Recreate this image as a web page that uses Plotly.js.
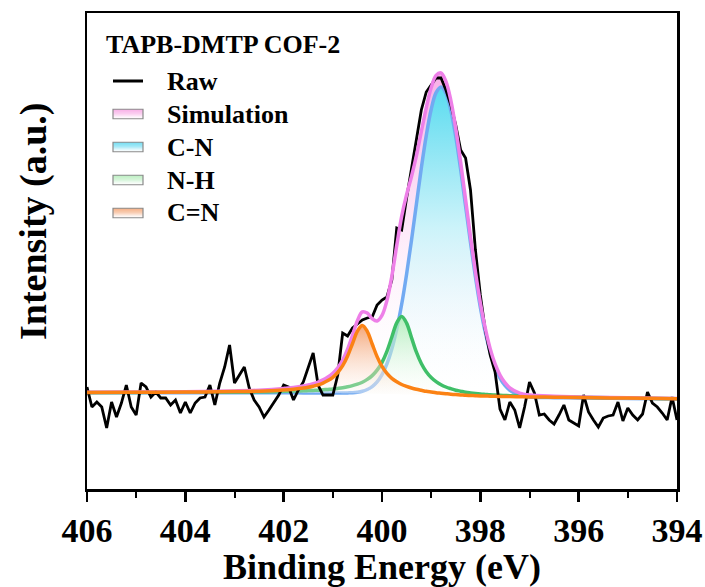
<!DOCTYPE html>
<html>
<head>
<meta charset="utf-8">
<script src="https://cdn.plot.ly/plotly-3.0.1.min.js"></script>
<style>
  html, body { margin: 0; padding: 0; background: #fff; }
  #chart { width: 705px; height: 587px; }
</style>
</head>
<body>
<div id="chart"></div>
<script>
// ---- Measured N 1s spectrum (binding energy in eV, intensity in a.u.) ----
const rawEnergy = [
  406.0, 405.9, 405.8, 405.7, 405.6, 405.5, 405.4, 405.3, 405.2, 405.1,
  405.0, 404.9, 404.8, 404.7, 404.6, 404.5, 404.4, 404.3, 404.2, 404.1,
  404.0, 403.9, 403.8, 403.7, 403.6, 403.5, 403.4, 403.3, 403.2, 403.1,
  403.0, 402.9, 402.8, 402.7, 402.6, 402.5, 402.4, 402.3, 402.2, 402.1,
  402.0, 401.9, 401.8, 401.7, 401.6, 401.5, 401.4, 401.3, 401.2, 401.1,
  401.0, 400.9, 400.8, 400.7, 400.6, 400.5, 400.4, 400.3, 400.2, 400.1,
  400.0, 399.9, 399.8, 399.7, 399.6, 399.5, 399.4, 399.3, 399.2, 399.1,
  399.0, 398.9, 398.8, 398.7, 398.6, 398.5, 398.4, 398.3, 398.2, 398.1,
  398.0, 397.9, 397.8, 397.7, 397.6, 397.5, 397.4, 397.3, 397.2, 397.1,
  397.0, 396.9, 396.8, 396.7, 396.6, 396.5, 396.4, 396.3, 396.2, 396.1,
  396.0, 395.9, 395.8, 395.7, 395.6, 395.5, 395.4, 395.3, 395.2, 395.1,
  395.0, 394.9, 394.8, 394.7, 394.6, 394.5, 394.4, 394.3, 394.2, 394.1,
  394.0
];
const rawIntensity = [
  102, 82, 87, 82, 61, 87, 72, 86, 104, 82,
  74, 106, 102, 92, 97, 91, 91, 84, 89, 76,
  87, 76, 86, 91, 92, 104, 84, 106, 122, 144,
  106, 114, 122, 101, 89, 82, 72, 79, 86, 94,
  104, 102, 89, 99, 107, 121, 136, 104, 94, 94,
  94, 114, 156, 153, 161, 165, 169, 171, 172, 184,
  189, 192, 209, 261, 259, 291, 319, 349, 379, 397,
  404, 411, 411, 399, 384, 364, 339, 331, 299, 239,
  194, 159, 134, 117, 80, 69, 87, 79, 61, 82,
  107, 96, 74, 75, 69, 65, 74, 84, 69, 66,
  63, 94, 77, 69, 62, 71, 73, 74, 87, 68,
  81, 74, 69, 75, 97, 86, 82, 76, 69, 92,
  69
];

// ---- Peak-fit results on the fit grid ----
const fitEnergy = [
  406.0, 405.0, 404.0, 403.0, 402.5, 402.0, 401.8, 401.6,
  401.5, 401.4, 401.3, 401.2, 401.1, 401.0, 400.9, 400.8, 400.7, 400.6,
  400.5, 400.4, 400.3, 400.2, 400.1, 400.0, 399.9, 399.8, 399.7, 399.6,
  399.5, 399.4, 399.3, 399.2, 399.1, 399.0, 398.9, 398.8, 398.7, 398.6,
  398.5, 398.4, 398.3, 398.2, 398.1, 398.0, 397.9, 397.8, 397.7, 397.6,
  397.5, 397.4, 397.2, 397.0, 396.5, 396.0, 395.0, 394.0
];
const background = [
  96.3, 96.3, 96.3, 96.3, 96.2, 96.2, 96.2, 96.1,
  96.1, 96.1, 96.0, 96.0, 96.0, 95.9, 95.9, 95.8, 95.8, 95.7,
  95.6, 95.5, 95.4, 95.3, 95.2, 95.1, 95.0, 94.9, 94.8, 94.6,
  94.5, 94.3, 94.1, 93.9, 93.6, 93.4, 93.2, 93.0, 92.8, 92.6,
  92.4, 92.3, 92.1, 92.0, 91.9, 91.8, 91.8, 91.7, 91.7, 91.6,
  91.6, 91.6, 91.5, 91.5, 91.3, 91.1, 90.6, 90.0
];
const simulation = [
  96.8, 96.9, 97.3, 98.1, 98.8, 100.4, 101.5, 103.0,
  104.0, 105.3, 106.9, 109.1, 112.0, 115.8, 121.3, 129.0, 139.8, 153.7,
  168.3, 177.1, 175.9, 170.3, 168.0, 173.6, 188.4, 212.8, 243.6, 272.6,
  294.3, 312.5, 333.3, 357.4, 381.2, 401.2, 413.6, 416.1, 407.6, 388.6,
  360.6, 326.7, 289.4, 252.1, 217.2, 186.3, 160.8, 140.4, 125.1, 113.9,
  106.3, 101.2, 95.9, 94.0, 92.7, 92.1, 91.2, 90.5
];
const peakCN = [
  96.3, 96.3, 96.3, 96.3, 96.2, 96.2, 96.2, 96.1,
  96.1, 96.1, 96.0, 96.0, 96.0, 95.9, 96.0, 95.9, 96.1, 96.3,
  96.8, 97.7, 99.5, 102.4, 107.1, 114.4, 125.1, 140.0, 159.8, 184.7,
  214.8, 248.8, 285.0, 321.0, 353.4, 379.5, 396.3, 402.0, 395.9, 378.7,
  352.2, 319.4, 283.0, 246.5, 212.2, 181.9, 156.8, 136.8, 121.8, 110.9,
  103.5, 98.7, 93.7, 92.1, 91.3, 91.1, 90.6, 90.0
];
const peakNH = [
  96.5, 96.6, 96.7, 97.0, 97.2, 97.7, 97.9, 98.2,
  98.4, 98.6, 98.8, 99.2, 99.6, 100.0, 100.6, 101.3, 102.2, 103.4,
  104.8, 106.8, 109.6, 113.4, 118.9, 126.7, 137.7, 152.0, 166.2, 172.6,
  165.9, 151.4, 136.8, 125.5, 117.3, 111.5, 107.4, 104.3, 102.0, 100.3,
  98.8, 97.8, 96.8, 96.1, 95.5, 95.0, 94.6, 94.2, 94.0, 93.7,
  93.5, 93.3, 93.0, 92.7, 92.2, 91.8, 91.0, 90.3
];
const peakCeqN = [
  96.5, 96.7, 96.9, 97.4, 97.8, 99.0, 99.8, 100.9,
  101.7, 102.8, 104.1, 105.9, 108.4, 111.7, 116.5, 123.3, 133.0, 145.4,
  157.9, 163.5, 157.7, 145.0, 132.4, 122.6, 115.6, 110.7, 107.2, 104.5,
  102.6, 101.0, 99.7, 98.7, 97.7, 97.0, 96.3, 95.8, 95.3, 94.8,
  94.4, 94.1, 93.7, 93.5, 93.3, 93.1, 93.0, 92.8, 92.7, 92.5,
  92.5, 92.4, 92.2, 92.1, 91.8, 91.5, 90.9, 90.2
];

const xTicks = [406, 404, 402, 400, 398, 396, 394];
const sampleName = 'TAPB-DMTP COF-2';
const legendNames = ['Raw', 'Simulation', 'C-N', 'N-H', 'C=N'];

// ---- styling ----
const serif = 'Liberation Serif, Times New Roman, serif';
const styles = {
  Simulation: { line: '#ee7fe8', top: [246, 160, 226], fill: [[0, 'rgba(255,255,255,0)'], [1, 'rgba(246,160,226,0.85)']] },
  'C-N':      { line: '#72aaf2', top: [86, 214, 240],  fill: [[0, 'rgba(255,255,255,0)'], [0.55, 'rgba(195,245,250,0.85)'], [1, 'rgba(80,222,240,0.95)']] },
  'N-H':      { line: '#3fbf68', top: [175, 236, 182], fill: [[0, 'rgba(255,255,255,0.15)'], [1, 'rgba(170,236,178,0.85)']] },
  'C=N':      { line: '#fb8214', top: [243, 160, 110], fill: [[0, 'rgba(255,255,255,0.2)'], [1, 'rgba(243,156,104,0.9)']] }
};
const fitWidth = 3.5;

// background under each component (invisible edge for the fill)
function baseTrace() {
  return { x: fitEnergy, y: background, mode: 'lines', line: { width: 0, shape: 'spline' },
           hoverinfo: 'skip', showlegend: false };
}
// a component area filled down to the background, optionally with its outline
function area(name, values, withLine) {
  const st = styles[name];
  return { x: fitEnergy, y: values, name: name, mode: 'lines',
           line: withLine ? { color: st.line, width: fitWidth, shape: 'spline' } : { width: 0, shape: 'spline' },
           fill: 'tonexty', fillgradient: { type: 'vertical', colorscale: st.fill }, showlegend: false };
}
function outline(name, values) {
  return { x: fitEnergy, y: values, name: name, mode: 'lines',
           line: { color: styles[name].line, width: fitWidth, shape: 'spline' }, showlegend: false };
}

const traces = [
  baseTrace(), area('Simulation', simulation, false),
  baseTrace(), area('C-N', peakCN, true),
  baseTrace(), area('N-H', peakNH, true),
  baseTrace(), area('C=N', peakCeqN, false),
  { x: rawEnergy, y: rawIntensity, name: 'Raw', mode: 'lines',
    line: { color: '#000', width: 2.8 }, showlegend: false },
  outline('Simulation', simulation),
  outline('C=N', peakCeqN)
];

// ---- legend inside the frame (plot-area pixel frame -> paper) ----
const plotL = 87, plotR = 677, plotT = 13, plotB = 489;
const px = v => (v - plotL) / (plotR - plotL);
const py = v => (plotB - v) / (plotB - plotT);

const shapes = [];
const annotations = [];
const rowY = [81, 114, 147, 180, 213];
const boxL = 113, boxR = 143, boxH = 9.5, textX = 165;

annotations.push({ xref: 'paper', yref: 'paper', x: px(104), y: py(44), xanchor: 'left', yanchor: 'middle',
  text: sampleName, showarrow: false, font: { family: serif, size: 26, color: '#000', weight: 'bold' } });

legendNames.forEach((name, i) => {
  const yc = rowY[i];
  if (name === 'Raw') {
    shapes.push({ type: 'line', xref: 'paper', yref: 'paper', x0: px(boxL), x1: px(boxR), y0: py(yc), y1: py(yc),
      line: { color: '#000', width: 3 } });
  } else {
    const top = styles[name].top;
    const strips = 10;
    for (let k = 0; k < strips; k++) {
      const t = k / (strips - 1);
      const c = top.map(v => Math.round(v + (255 - v) * t));
      const y0 = yc - boxH / 2 + k * boxH / strips;
      shapes.push({ type: 'rect', xref: 'paper', yref: 'paper', x0: px(boxL), x1: px(boxR),
        y0: py(y0), y1: py(y0 + boxH / strips), line: { width: 0 }, fillcolor: `rgb(${c[0]},${c[1]},${c[2]})` });
    }
    shapes.push({ type: 'rect', xref: 'paper', yref: 'paper', x0: px(boxL), x1: px(boxR),
      y0: py(yc - boxH / 2), y1: py(yc + boxH / 2), line: { color: '#8a8a8a', width: 1.2 }, fillcolor: 'rgba(0,0,0,0)' });
  }
  annotations.push({ xref: 'paper', yref: 'paper', x: px(textX), y: py(yc), xanchor: 'left', yanchor: 'middle',
    text: name, showarrow: false, font: { family: serif, size: 26, color: '#000', weight: 'bold' } });
});

// vertical intensity title
annotations.push({ xref: 'paper', yref: 'paper', x: px(33), y: py(221), xanchor: 'center', yanchor: 'middle',
  textangle: -90, text: 'Intensity (a.u.)', showarrow: false,
  font: { family: serif, size: 38, color: '#000', weight: 'bold' } });

const layout = {
  width: 705, height: 587,
  margin: { l: plotL, r: 705 - plotR, t: plotT, b: 587 - plotB },
  paper_bgcolor: '#fff', plot_bgcolor: '#fff',
  showlegend: false,
  xaxis: {
    range: [406, 394], autorange: false,
    tickvals: xTicks, ticktext: xTicks.map(String),
    ticks: 'outside', ticklen: 10, tickwidth: 2.5, tickcolor: '#000',
    minor: { dtick: 1, tick0: 394, ticks: 'outside', ticklen: 6, tickwidth: 2, tickcolor: '#000', showgrid: false },
    tickfont: { family: serif, size: 34, color: '#000', weight: 'bold' },
    showgrid: false, zeroline: false,
    showline: true, linecolor: '#000', linewidth: 2.5, mirror: true,
    title: { text: 'Binding Energy (eV)', standoff: 14,
             font: { family: serif, size: 36, color: '#000', weight: 'bold' } }
  },
  yaxis: {
    range: [0, 476], autorange: false,
    showticklabels: false, ticks: '',
    showgrid: false, zeroline: false,
    showline: true, linecolor: '#000', linewidth: 2.5, mirror: true
  },
  shapes: shapes,
  annotations: annotations
};

Plotly.newPlot('chart', traces, layout, { staticPlot: true, displayModeBar: false });
</script>
</body>
</html>
